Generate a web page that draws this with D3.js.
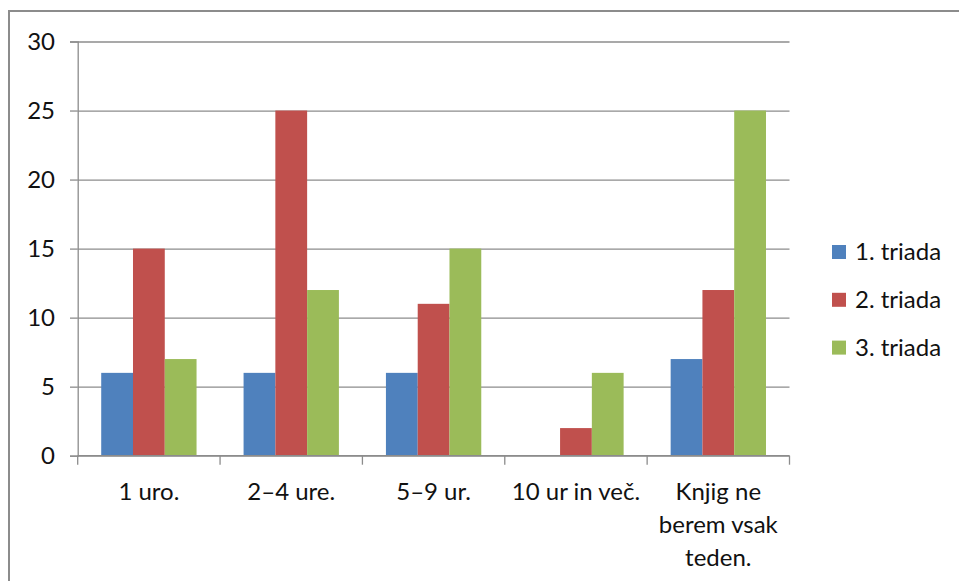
<!DOCTYPE html>
<html>
<head>
<meta charset="utf-8">
<script src="https://cdn.jsdelivr.net/npm/d3@7"></script>
<style>
  body { margin: 0; background: #fff; }
  svg text { font-family: Lato, "Open Sans", sans-serif; fill: #111; }
</style>
</head>
<body>
<div id="view"></div>
<script>
var categories = ["1 uro.", "2–4 ure.", "5–9 ur.", "10 ur in več.", "Knjig ne berem vsak teden."];
var seriesNames = ["1. triada", "2. triada", "3. triada"];
var triada1 = [6, 6, 6, 0, 7];
var triada2 = [15, 25, 11, 2, 12];
var triada3 = [7, 12, 15, 6, 25];
var yTicks = [0, 5, 10, 15, 20, 25, 30];
var colors = ["#4F81BD", "#C0504D", "#9BBB59"];

var width = 959, height = 581;
var margin = {top: 41.5, left: 77.7, right: 169.5, bottom: 125.3};
var fontSize = "24px";

var svg = d3.select("#view")
    .append("svg")
    .attr("width", width)
    .attr("height", height);

// chart frame (only left and top edges visible)
svg.append("path")
    .attr("d", "M9,600 L9,11 L970,11")
    .attr("fill", "none")
    .attr("stroke", "#8c8c8c")
    .attr("stroke-width", 2);

var x = d3.scaleBand()
    .domain(categories)
    .range([margin.left, width - margin.right])
    .paddingInner(0)
    .paddingOuter(0);

var inner = d3.scaleBand()
    .domain(seriesNames)
    .range([0, x.bandwidth()])
    .paddingOuter(0.74)
    .paddingInner(0);

var y = d3.scaleLinear()
    .domain([0, 30])
    .range([height - margin.bottom, margin.top]);

// gridlines with left ticks
var yAxis = svg.append("g")
    .attr("transform", "translate(" + margin.left + ",0)")
    .call(d3.axisLeft(y)
        .tickValues(yTicks)
        .tickSize(7.7)
        .tickPadding(15));
yAxis.select(".domain").attr("stroke", "#8c8c8c").attr("stroke-width", 1.3);
yAxis.selectAll(".tick line").attr("stroke", "#8c8c8c").attr("stroke-width", 1.3);
yAxis.selectAll(".tick text")
    .style("font-size", fontSize)
    .attr("fill", "#111");
yAxis.selectAll(".tick").append("line")
    .attr("x1", 0)
    .attr("x2", width - margin.right - margin.left)
    .attr("stroke", "#8c8c8c")
    .attr("stroke-width", 1.3);

var data = categories.map(function(c, i) {
    return {cat: c, values: [triada1[i], triada2[i], triada3[i]]};
});

var groups = svg.append("g")
    .selectAll("g")
    .data(data)
    .enter().append("g")
    .attr("transform", function(d) { return "translate(" + x(d.cat) + ",0)"; });

groups.selectAll("rect")
    .data(function(d) { return d.values.map(function(v, j) { return {name: seriesNames[j], value: v, j: j}; }); })
    .enter().append("rect")
    .attr("x", function(d) { return inner(d.name); })
    .attr("width", inner.bandwidth())
    .attr("y", function(d) { return y(d.value); })
    .attr("height", function(d) { return y(0) - y(d.value); })
    .attr("fill", function(d) { return colors[d.j]; });

// bottom axis with category ticks at band edges
var xAxisY = y(0);
var edges = categories.map(function(c) { return x(c); }).concat([x.range()[1]]);
svg.append("line")
    .attr("x1", x.range()[0]).attr("x2", x.range()[1])
    .attr("y1", xAxisY).attr("y2", xAxisY)
    .attr("stroke", "#8c8c8c").attr("stroke-width", 1.3);
svg.append("g").selectAll("line")
    .data(edges)
    .enter().append("line")
    .attr("x1", function(d) { return d; })
    .attr("x2", function(d) { return d; })
    .attr("y1", xAxisY)
    .attr("y2", xAxisY + 9)
    .attr("stroke", "#8c8c8c")
    .attr("stroke-width", 1.3);

// category labels (wrapped like the original)
var labelLines = [["1 uro."], ["2–4 ure."], ["5–9 ur."], ["10 ur in več."], ["Knjig ne", "berem vsak", "teden."]];
var labels = svg.append("g").selectAll("text")
    .data(categories)
    .enter().append("text")
    .attr("x", function(d) { return x(d) + x.bandwidth() / 2; })
    .attr("y", 500)
    .attr("text-anchor", "middle")
    .style("font-size", fontSize);
labels.each(function(d, i) {
    var t = d3.select(this);
    labelLines[i].forEach(function(line, k) {
        t.append("tspan")
            .attr("x", x(d) + x.bandwidth() / 2)
            .attr("dy", k === 0 ? 0 : 33)
            .text(line);
    });
});

// legend
var legend = svg.append("g")
    .selectAll("g")
    .data(seriesNames)
    .enter().append("g")
    .attr("transform", function(d, i) { return "translate(832," + (252 + i * 47.8) + ")"; });
legend.append("rect")
    .attr("x", 0)
    .attr("y", -7)
    .attr("width", 14)
    .attr("height", 14)
    .attr("fill", function(d, i) { return colors[i]; });
legend.append("text")
    .attr("x", 23)
    .attr("y", 0)
    .attr("dy", "0.35em")
    .style("font-size", fontSize)
    .text(function(d) { return d; });
</script>
</body>
</html>
